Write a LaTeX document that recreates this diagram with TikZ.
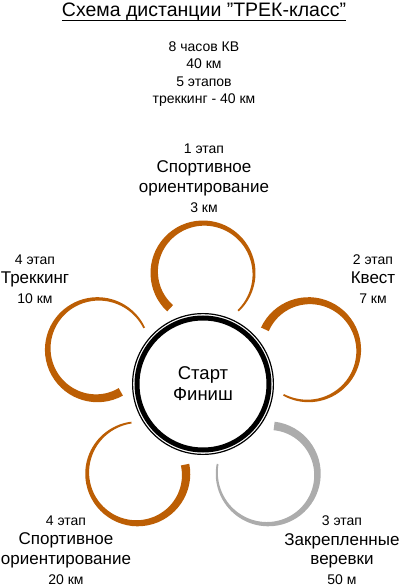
\documentclass[tikz,border=0pt]{standalone}
\usepackage{fontspec}
\setmainfont{Liberation Sans}
\definecolor{skOrange}{RGB}{188,94,4}
\definecolor{skGray}{RGB}{172,172,172}
\usetikzlibrary{positioning}

% one tapered petal: direction from the centre, colour
\newcommand{\stagearc}[2]{%
  \pgfmathsetmacro{\petalbeg}{#1+137}%
  \pgfmathsetmacro{\petalfin}{#1-137}%
  \begin{scope}[shift={(#1:111)}]
    \fill[#2] (\petalbeg:52.5) arc[start angle=\petalbeg, end angle=\petalfin, radius=52.5]
      -- plot[domain=\petalfin:\petalbeg, samples=90] ({\x}:{50.7-6.8*(\x-\petalfin)/274}) -- cycle;
  \end{scope}}
\newcommand{\stname}[1]{{\fontsize{17}{19.6}\selectfont #1}}

\begin{document}
\begin{tikzpicture}[x=1pt, y=1pt,
    stage/.style={align=center, inner sep=0pt, font=\fontsize{14}{19.6}\selectfont}]
    \useasboundingbox (-203,-203) rectangle (197,384);

    % title
    \node[anchor=base, inner sep=0pt, font=\fontsize{19.5}{22}\selectfont] (title) at (1,367) {Схема дистанции "ТРЕК-класс"};
    \draw[line width=1.3pt] ([yshift=-3.5pt]title.base west) -- ([yshift=-3.5pt]title.base east);

    % general info
    \node[stage, font=\fontsize{14}{17.6}\selectfont] (info) at (1,310) {8 часов КВ\\40 км\\5 этапов\\треккинг - 40 км};

    % petals
    \stagearc{90}{skOrange}
    \stagearc{18}{skOrange}
    \stagearc{-54}{skGray}
    \stagearc{-126}{skOrange}
    \stagearc{162}{skOrange}

    % stage labels
    \node[stage] (st1) at (1,206) {1 этап\\\stname{Спортивное}\\\stname{ориентирование}\\3 км};
    \node[stage] (st2) at (170,105) {2 этап\\\stname{Квест}\\7 км};
    \node[stage] (st3) at (139,-166) {3 этап\\\stname{Закрепленные}\\\stname{веревки}\\50 м};
    \node[stage] (st4a) at (-137,-166) {4 этап\\\stname{Спортивное}\\\stname{ориентирование}\\20 км};
    \node[stage] (st4b) at (-168,105) {4 этап\\\stname{Треккинг}\\10 км};

    % start / finish
    \draw[line width=1.2pt] (0,0) circle[radius=70.4];
    \node[circle, draw, line width=5pt, minimum size=132pt, align=center, font=\fontsize{18.5}{21}\selectfont] (start) at (0,0) {Старт\\Финиш};
\end{tikzpicture}
\end{document}
